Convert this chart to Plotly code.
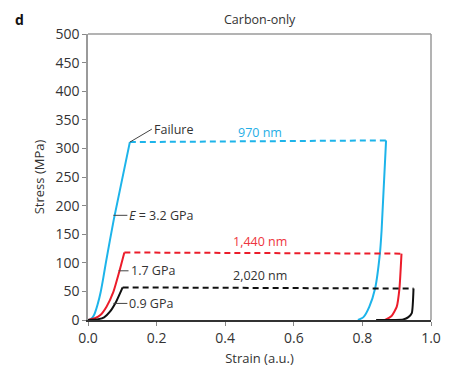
import plotly.graph_objects as go

# ---- data (strain in a.u., stress in MPa) ----
blue_load_x = [0.0, 0.006, 0.011, 0.016, 0.020, 0.028, 0.037, 0.045, 0.052, 0.075, 0.122]
blue_load_y = [0, 1, 3, 7, 12, 27, 49, 75, 100, 175, 311]
blue_plat_x = [0.122, 0.869]
blue_plat_y = [311, 314]
blue_unl_x = [0.869, 0.856, 0.851, 0.837, 0.820, 0.803, 0.787]
blue_unl_y = [314, 157, 116, 55, 23, 5, 0]

red_load_x = [0.0, 0.02, 0.037, 0.054, 0.074, 0.091, 0.106]
red_load_y = [0, 3, 9, 23, 49, 84, 118]
red_plat_x = [0.106, 0.914]
red_plat_y = [118, 116]
red_unl_x = [0.914, 0.908, 0.900, 0.885, 0.866]
red_unl_y = [116, 55, 23, 7, 0]

black_load_x = [0.0, 0.03, 0.047, 0.064, 0.082, 0.101]
black_load_y = [0, 1.5, 4.7, 14.5, 32, 57]
black_plat_x = [0.101, 0.949]
black_plat_y = [57, 55]
black_unl_x = [0.949, 0.944, 0.934, 0.919, 0.84]
black_unl_y = [55, 12, 5, 1, 0]

x_ticks = [0.0, 0.2, 0.4, 0.6, 0.8, 1.0]
x_tick_labels = ["0.0", "0.2", "0.4", "0.6", "0.8", "1.0"]
y_ticks = [0, 50, 100, 150, 200, 250, 300, 350, 400, 450, 500]

BLUE = "#1db4ea"
RED = "#ec1c2a"
BLACK = "#111111"
FONT = "Open Sans"

fig = go.Figure()

def add(x, y, color, dash=None, spline=False):
    fig.add_trace(go.Scatter(
        x=x, y=y, mode="lines", showlegend=False, hoverinfo="skip",
        cliponaxis=False,
        line=dict(color=color, width=2, dash=dash or "solid",
                  shape="spline" if spline else "linear",
                  smoothing=0.5 if spline else None),
    ))

add(blue_load_x, blue_load_y, BLUE, spline=True)
add(blue_plat_x, blue_plat_y, BLUE, "6px,4px")
add(blue_unl_x, blue_unl_y, BLUE, spline=True)
add(red_load_x, red_load_y, RED, spline=True)
add(red_plat_x, red_plat_y, RED, "6px,4px")
add(red_unl_x, red_unl_y, RED, spline=True)
add(black_load_x, black_load_y, BLACK, spline=True)
add(black_plat_x, black_plat_y, BLACK, "6px,4px")
add(black_unl_x, black_unl_y, BLACK, spline=True)

ANN = 12.5
txt = dict(family=FONT, size=ANN, color="#333333")

def leader(x, y, text, ax, ay):
    fig.add_annotation(x=x, y=y, text=text, showarrow=True, arrowhead=0,
                       arrowwidth=1, arrowcolor="#444444", ax=ax, ay=ay,
                       xanchor="left", yanchor="middle", font=txt)

leader(0.122, 311, "Failure", 22, -13)
leader(0.074, 183, "<i>E</i> = 3.2 GPa", 14, 0)
leader(0.089, 86, "1.7 GPa", 10, 0)
leader(0.074, 29, "0.9 GPa", 14, 0)

fig.add_annotation(x=0.5, y=327, text="970 nm", showarrow=False,
                   xanchor="center", yanchor="middle",
                   font=dict(family=FONT, size=ANN, color="#25aee6"))
fig.add_annotation(x=0.5, y=137, text="1,440 nm", showarrow=False,
                   xanchor="center", yanchor="middle",
                   font=dict(family=FONT, size=ANN, color="#ee3540"))
fig.add_annotation(x=0.5, y=77, text="2,020 nm", showarrow=False,
                   xanchor="center", yanchor="middle",
                   font=dict(family=FONT, size=ANN, color="#333333"))

# panel letter and title
fig.add_annotation(xref="paper", yref="paper", x=-0.218, y=1.052, text="<b>d</b>",
                   showarrow=False, xanchor="left", yanchor="middle",
                   font=dict(family=FONT, size=14, color="#111111"))
fig.add_annotation(xref="paper", yref="paper", x=0.5, y=1.049, text="Carbon-only",
                   showarrow=False, xanchor="center", yanchor="middle",
                   font=dict(family=FONT, size=12.5, color="#333333"))

# top and right frame
fig.add_shape(type="line", xref="paper", yref="paper", x0=0, x1=1, y0=1, y1=1,
              line=dict(color="#9a9a9a", width=1.5))
fig.add_shape(type="line", xref="paper", yref="paper", x0=1, x1=1, y0=0, y1=1,
              line=dict(color="#9a9a9a", width=1.5))

# page body has an 8px default margin, so the figure is sized to fill the rest
fig.update_layout(
    width=455, height=364,
    margin=dict(l=80, r=32, t=26, b=52, autoexpand=False),
    paper_bgcolor="white", plot_bgcolor="white",
    font=dict(family=FONT, size=12, color="#333333"),
    xaxis=dict(range=[0, 1.0], tickvals=x_ticks, ticktext=x_tick_labels,
               automargin=False,
               showgrid=False, zeroline=False, showline=True,
               linecolor="#333333", linewidth=1.5,
               ticks="outside", ticklen=4, tickcolor="#888888",
               tickfont=dict(family=FONT, size=14, color="#333333"),
               title=dict(text="Strain (a.u.)", standoff=8,
                          font=dict(family=FONT, size=13, color="#333333"))),
    yaxis=dict(range=[0, 500], tickvals=y_ticks,
               automargin=False,
               showgrid=False, zeroline=False, showline=True,
               linecolor="#9a9a9a", linewidth=1.5,
               ticks="outside", ticklen=4, tickcolor="#888888",
               tickfont=dict(family=FONT, size=14, color="#333333"),
               title=dict(text="Stress (MPa)", standoff=8,
                          font=dict(family=FONT, size=13, color="#333333"))),
)

fig.write_html("out.html")
